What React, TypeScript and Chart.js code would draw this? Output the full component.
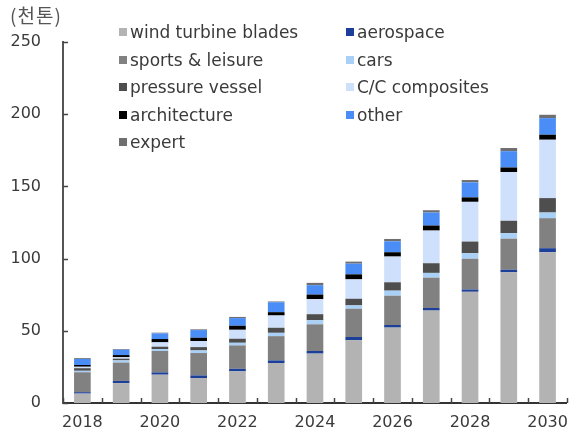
import React, { useEffect, useRef } from "react";
import { Chart, registerables } from "chart.js";

Chart.register(...registerables);

const years = ["2018", "2019", "2020", "2021", "2022", "2023", "2024", "2025", "2026", "2027", "2028", "2029", "2030"];
const yTicks = [0, 50, 100, 150, 200, 250];
const unitLabel = "(천톤)";

const windTurbineBlades = [6.5, 13.8, 19.6, 17.3, 21.9, 27.7, 34.2, 43.4, 52.2, 64, 77, 90.5, 104.4];
const aerospace = [1, 1.5, 1.6, 1.8, 1.8, 1.8, 1.8, 2.3, 1.8, 1.8, 1.6, 1.8, 2.8];
const sportsLeisure = [13.8, 12.7, 14.8, 15.5, 16.2, 16.8, 18.5, 19.6, 20.3, 21, 21.3, 21.5, 20.8];
const cars = [1, 1.5, 1.2, 1.8, 1.8, 2.3, 2.8, 2.3, 3.5, 3.3, 3.8, 3.8, 3.9];
const pressureVessel = [1.8, 1.2, 1.8, 2.3, 2.8, 3.5, 4.2, 4.6, 5.8, 6.7, 8.1, 8.6, 10];
const ccComposites = [1, 1, 3, 4.2, 6.2, 8.5, 10.4, 13.4, 17.8, 22.6, 27.5, 33.7, 40.4];
const architecture = [1.2, 1.5, 2.3, 2.3, 2.8, 2.3, 3.2, 3.5, 3, 3.5, 3.1, 3.2, 3.5];
const other = [4.2, 3.7, 3.9, 5.3, 5.3, 6.9, 6.5, 7.4, 7.6, 9, 10.4, 11.3, 11.5];
const expert = [0.6, 0.5, 0.5, 0.5, 0.8, 0.5, 1.6, 1.4, 1.6, 1.6, 1.6, 2.2, 2.3];

const seriesNames = [
  "wind turbine blades",
  "aerospace",
  "sports & leisure",
  "cars",
  "pressure vessel",
  "C/C composites",
  "architecture",
  "other",
  "expert",
];
const seriesValues = [windTurbineBlades, aerospace, sportsLeisure, cars, pressureVessel, ccComposites, architecture, other, expert];
const seriesColors = ["#b3b3b3", "#1c3f98", "#818181", "#a9d0f7", "#4e4e4e", "#cfe0fc", "#000000", "#4a8df6", "#6f6f6f"];

const FONT = "'DejaVu Sans', sans-serif";
const TEXT_COLOR = "#3a3a3a";

const inwardTicks = {
  id: "inwardTicks",
  afterDraw(chart: any) {
    const { ctx, chartArea, scales } = chart;
    const xs = scales.x;
    const ys = scales.y;
    ctx.save();
    ctx.strokeStyle = "#444";
    ctx.lineWidth = 1.5;
    ys.ticks.forEach((_t: any, i: number) => {
      const py = Math.round(ys.getPixelForTick(i)) + 0.5;
      ctx.beginPath();
      ctx.moveTo(chartArea.left, py);
      ctx.lineTo(chartArea.left + 5, py);
      ctx.stroke();
    });
    for (let i = 0; i <= years.length; i++) {
      const px = Math.round(xs.getPixelForValue(i - 0.5)) + 0.5;
      ctx.beginPath();
      ctx.moveTo(px, chartArea.bottom);
      ctx.lineTo(px, chartArea.bottom - 5);
      ctx.stroke();
    }
    ctx.restore();
  },
};

export default function App() {
  const ref = useRef<HTMLCanvasElement | null>(null);

  useEffect(() => {
    if (!ref.current) return;
    const chart = new Chart(ref.current, {
      type: "bar",
      data: {
        labels: years,
        datasets: seriesNames.map((name, i) => ({
          label: name,
          data: seriesValues[i],
          backgroundColor: seriesColors[i],
          borderWidth: 0,
          barPercentage: 0.43,
          categoryPercentage: 1,
        })),
      },
      options: {
        animation: false,
        responsive: false,
        devicePixelRatio: 1,
        layout: { padding: { top: 42, right: 2, left: 0, bottom: 0 } },
        plugins: { legend: { display: false }, tooltip: { enabled: false } },
        scales: {
          x: {
            stacked: true,
            offset: true,
            grid: { display: false, drawTicks: false },
            border: { display: true, color: "#333", width: 2 },
            afterFit: (s: any) => {
              s.height = 34;
            },
            ticks: {
              autoSkip: false,
              maxRotation: 0,
              padding: 10,
              color: TEXT_COLOR,
              font: { family: FONT, size: 16 },
              callback: (_v: any, idx: number) => (idx % 2 === 0 ? years[idx] : ""),
            },
          },
          y: {
            stacked: true,
            min: 0,
            max: 250,
            afterFit: (s: any) => {
              s.width = 63;
            },
            afterBuildTicks: (s: any) => {
              s.ticks = yTicks.map((v) => ({ value: v }));
            },
            grid: { display: false, drawTicks: false },
            border: { display: true, color: "#555", width: 2 },
            ticks: {
              padding: 22,
              color: TEXT_COLOR,
              font: { family: FONT, size: 16 },
            },
          },
        },
      },
      plugins: [inwardTicks],
    });
    return () => chart.destroy();
  }, []);

  const legendCols = [119, 346];
  const legendRowTop = 32;
  const legendRowGap = 27.5;

  return (
    <div style={{ position: "fixed", left: 0, top: 0, width: 578, height: 437, background: "#fff" }}>
      <canvas ref={ref} width={578} height={437} style={{ width: 578, height: 437, display: "block" }} />
      <div
        style={{
          position: "absolute",
          left: 10,
          top: 4,
          fontFamily: "'Noto Sans CJK KR', sans-serif",
          fontSize: 19,
          color: "#555",
          lineHeight: "22px",
          letterSpacing: 1,
        }}
      >
        {unitLabel}
      </div>
      {seriesNames.map((name, i) => {
        const col = i % 2;
        const row = Math.floor(i / 2);
        return (
          <div
            key={name}
            style={{
              position: "absolute",
              left: legendCols[col],
              top: legendRowTop + row * legendRowGap - 10,
              height: 20,
              display: "flex",
              alignItems: "center",
              fontFamily: FONT,
              fontSize: 17,
              color: TEXT_COLOR,
              whiteSpace: "nowrap",
            }}
          >
            <span style={{ display: "inline-block", width: 8, height: 8, background: seriesColors[i], marginRight: 3 }} />
            <span>{name}</span>
          </div>
        );
      })}
    </div>
  );
}
